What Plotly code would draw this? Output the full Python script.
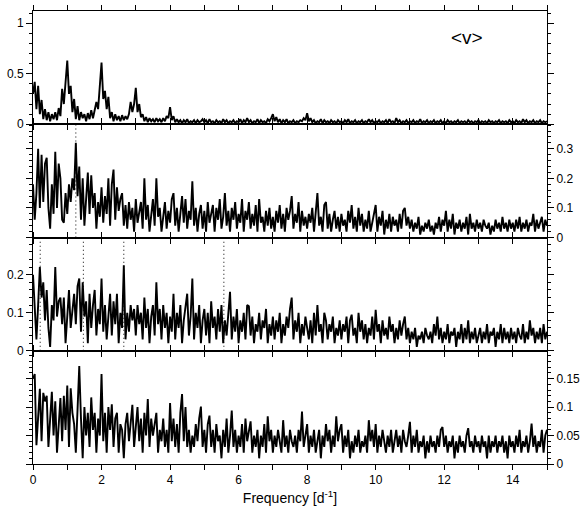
import plotly.graph_objects as go
from plotly.subplots import make_subplots

# frequency grid, step 0.05 d^-1
freq = [round(i * 0.05, 2) for i in range(301)]

# amplitude spectra (one row of 20 values per d^-1)
amp_v = [
    0.30, 0.42, 0.15, 0.38, 0.10, 0.24, 0.05, 0.15, 0.04, 0.12, 0.03, 0.10, 0.05, 0.12, 0.04, 0.16, 0.08, 0.35, 0.20, 0.47,
    0.63, 0.30, 0.38, 0.12, 0.25, 0.05, 0.18, 0.04, 0.12, 0.06, 0.10, 0.03, 0.11, 0.05, 0.14, 0.06, 0.13, 0.22, 0.15, 0.34,
    0.61, 0.25, 0.33, 0.15, 0.27, 0.06, 0.12, 0.03, 0.10, 0.04, 0.08, 0.03, 0.09, 0.04, 0.08, 0.05, 0.10, 0.22, 0.12, 0.20,
    0.36, 0.12, 0.20, 0.07, 0.10, 0.03, 0.07, 0.02, 0.06, 0.03, 0.05, 0.02, 0.06, 0.03, 0.05, 0.02, 0.06, 0.03, 0.08, 0.06,
    0.17, 0.04, 0.08, 0.02, 0.05, 0.02, 0.04, 0.01, 0.04, 0.02, 0.05, 0.01, 0.03, 0.02, 0.04, 0.01, 0.04, 0.02, 0.03, 0.05,
    0.02, 0.04, 0.01, 0.05, 0.02, 0.03, 0.01, 0.04, 0.02, 0.03, 0.01, 0.05, 0.02, 0.04, 0.01, 0.03, 0.02, 0.04, 0.01, 0.03,
    0.02, 0.05, 0.01, 0.04, 0.02, 0.06, 0.02, 0.04, 0.01, 0.03, 0.02, 0.05, 0.01, 0.04, 0.02, 0.03, 0.01, 0.05, 0.03, 0.06,
    0.10, 0.03, 0.07, 0.02, 0.05, 0.01, 0.04, 0.02, 0.05, 0.01, 0.03, 0.02, 0.04, 0.01, 0.03, 0.02, 0.04, 0.03, 0.06, 0.04,
    0.11, 0.03, 0.06, 0.02, 0.04, 0.01, 0.03, 0.02, 0.05, 0.01, 0.04, 0.02, 0.03, 0.01, 0.04, 0.02, 0.03, 0.01, 0.04, 0.02,
    0.03, 0.01, 0.04, 0.02, 0.05, 0.01, 0.03, 0.02, 0.04, 0.01, 0.03, 0.02, 0.04, 0.01, 0.03, 0.02, 0.05, 0.02, 0.04, 0.01,
    0.03, 0.02, 0.04, 0.01, 0.03, 0.02, 0.04, 0.01, 0.05, 0.02, 0.03, 0.01, 0.06, 0.02, 0.04, 0.01, 0.03, 0.02, 0.04, 0.01,
    0.03, 0.02, 0.04, 0.01, 0.03, 0.02, 0.05, 0.01, 0.03, 0.02, 0.04, 0.01, 0.03, 0.02, 0.04, 0.01, 0.03, 0.02, 0.04, 0.01,
    0.03, 0.01, 0.04, 0.02, 0.03, 0.01, 0.03, 0.02, 0.04, 0.01, 0.03, 0.02, 0.03, 0.01, 0.04, 0.02, 0.03, 0.01, 0.03, 0.02,
    0.04, 0.01, 0.03, 0.02, 0.03, 0.01, 0.04, 0.02, 0.03, 0.01, 0.03, 0.02, 0.04, 0.01, 0.03, 0.02, 0.03, 0.01, 0.04, 0.02,
    0.03, 0.01, 0.04, 0.02, 0.03, 0.01, 0.05, 0.02, 0.04, 0.01, 0.03, 0.02, 0.04, 0.01, 0.03, 0.02, 0.04, 0.01, 0.03, 0.02,
    0.03,
]

amp_pw1 = [
    0.18, 0.06, 0.15, 0.30, 0.10, 0.28, 0.12, 0.25, 0.27, 0.10, 0.03, 0.18, 0.08, 0.29, 0.10, 0.25, 0.20, 0.06, 0.05, 0.15,
    0.08, 0.18, 0.12, 0.20, 0.16, 0.32, 0.14, 0.24, 0.06, 0.20, 0.04, 0.12, 0.22, 0.08, 0.21, 0.10, 0.15, 0.03, 0.12, 0.07,
    0.17, 0.05, 0.14, 0.08, 0.20, 0.04, 0.18, 0.23, 0.06, 0.17, 0.09, 0.13, 0.15, 0.04, 0.11, 0.03, 0.12, 0.06, 0.10, 0.02,
    0.13, 0.05, 0.09, 0.12, 0.03, 0.20, 0.06, 0.11, 0.02, 0.09, 0.13, 0.04, 0.20, 0.07, 0.10, 0.02, 0.08, 0.12, 0.03, 0.09,
    0.05, 0.13, 0.15, 0.04, 0.10, 0.02, 0.08, 0.14, 0.05, 0.13, 0.03, 0.09, 0.06, 0.19, 0.04, 0.10, 0.02, 0.08, 0.11, 0.03,
    0.09, 0.02, 0.12, 0.05, 0.08, 0.11, 0.02, 0.10, 0.06, 0.13, 0.03, 0.07, 0.15, 0.04, 0.09, 0.02, 0.10, 0.06, 0.12, 0.03,
    0.08, 0.05, 0.13, 0.02, 0.09, 0.06, 0.12, 0.03, 0.08, 0.04, 0.11, 0.02, 0.13, 0.05, 0.07, 0.02, 0.09, 0.04, 0.10, 0.03,
    0.07, 0.02, 0.09, 0.05, 0.11, 0.03, 0.08, 0.02, 0.10, 0.06, 0.09, 0.14, 0.03, 0.08, 0.05, 0.12, 0.02, 0.09, 0.04, 0.07,
    0.03, 0.08, 0.05, 0.10, 0.02, 0.09, 0.15, 0.04, 0.07, 0.02, 0.11, 0.12, 0.03, 0.08, 0.02, 0.06, 0.09, 0.03, 0.07, 0.02,
    0.08, 0.04, 0.06, 0.02, 0.09, 0.05, 0.11, 0.03, 0.07, 0.02, 0.10, 0.04, 0.08, 0.02, 0.06, 0.03, 0.09, 0.02, 0.05, 0.08,
    0.11, 0.02, 0.07, 0.04, 0.09, 0.01, 0.06, 0.03, 0.08, 0.02, 0.07, 0.04, 0.06, 0.02, 0.08, 0.03, 0.09, 0.10, 0.04, 0.07,
    0.03, 0.06, 0.02, 0.05, 0.03, 0.07, 0.01, 0.04, 0.02, 0.05, 0.03, 0.06, 0.02, 0.04, 0.01, 0.05, 0.03, 0.07, 0.02, 0.06,
    0.04, 0.09, 0.02, 0.06, 0.03, 0.08, 0.01, 0.05, 0.03, 0.06, 0.02, 0.05, 0.03, 0.07, 0.01, 0.08, 0.03, 0.05, 0.02, 0.06,
    0.03, 0.05, 0.02, 0.06, 0.04, 0.03, 0.05, 0.01, 0.04, 0.02, 0.06, 0.03, 0.05, 0.02, 0.07, 0.03, 0.05, 0.02, 0.06, 0.03,
    0.05, 0.02, 0.06, 0.03, 0.07, 0.02, 0.05, 0.03, 0.06, 0.02, 0.05, 0.04, 0.08, 0.02, 0.06, 0.03, 0.05, 0.07, 0.02, 0.06,
    0.04,
]

amp_pw2 = [
    0.20, 0.10, 0.03, 0.12, 0.22, 0.14, 0.18, 0.08, 0.16, 0.06, 0.01, 0.12, 0.08, 0.22, 0.09, 0.13, 0.14, 0.07, 0.14, 0.02,
    0.10, 0.16, 0.06, 0.11, 0.15, 0.07, 0.17, 0.19, 0.05, 0.18, 0.09, 0.13, 0.02, 0.15, 0.06, 0.12, 0.16, 0.04, 0.11, 0.07,
    0.19, 0.05, 0.12, 0.03, 0.09, 0.15, 0.04, 0.13, 0.07, 0.15, 0.02, 0.10, 0.06, 0.225, 0.03, 0.10, 0.05, 0.12, 0.08, 0.11,
    0.04, 0.12, 0.07, 0.10, 0.03, 0.14, 0.06, 0.11, 0.02, 0.09, 0.12, 0.04, 0.18, 0.07, 0.11, 0.03, 0.12, 0.06, 0.10, 0.02,
    0.09, 0.05, 0.15, 0.03, 0.10, 0.06, 0.12, 0.02, 0.08, 0.11, 0.15, 0.04, 0.09, 0.19, 0.03, 0.10, 0.06, 0.12, 0.02, 0.08,
    0.11, 0.04, 0.10, 0.02, 0.13, 0.06, 0.09, 0.03, 0.11, 0.05, 0.12, 0.02, 0.08, 0.04, 0.10, 0.155, 0.03, 0.09, 0.05, 0.11,
    0.02, 0.08, 0.05, 0.10, 0.03, 0.12, 0.117, 0.04, 0.09, 0.02, 0.07, 0.05, 0.10, 0.03, 0.08, 0.06, 0.11, 0.02, 0.07, 0.04,
    0.09, 0.03, 0.08, 0.05, 0.10, 0.02, 0.07, 0.04, 0.09, 0.06, 0.11, 0.14, 0.03, 0.08, 0.05, 0.10, 0.02, 0.07, 0.04, 0.09,
    0.06, 0.03, 0.08, 0.02, 0.10, 0.04, 0.12, 0.05, 0.07, 0.02, 0.10, 0.08, 0.03, 0.07, 0.05, 0.09, 0.02, 0.06, 0.04, 0.08,
    0.03, 0.07, 0.05, 0.09, 0.02, 0.08, 0.095, 0.04, 0.06, 0.02, 0.10, 0.05, 0.08, 0.03, 0.07, 0.02, 0.06, 0.04, 0.09, 0.03,
    0.108, 0.05, 0.07, 0.02, 0.08, 0.04, 0.06, 0.03, 0.09, 0.05, 0.07, 0.02, 0.06, 0.03, 0.08, 0.04, 0.07, 0.09, 0.03, 0.06,
    0.02, 0.05, 0.03, 0.06, 0.01, 0.04, 0.03, 0.05, 0.02, 0.06, 0.04, 0.03, 0.05, 0.02, 0.07, 0.04, 0.09, 0.03, 0.06, 0.02,
    0.05, 0.03, 0.07, 0.02, 0.05, 0.04, 0.06, 0.01, 0.05, 0.03, 0.07, 0.02, 0.06, 0.03, 0.08, 0.02, 0.05, 0.03, 0.06, 0.02,
    0.04, 0.06, 0.02, 0.05, 0.03, 0.07, 0.02, 0.05, 0.04, 0.06, 0.01, 0.05, 0.03, 0.07, 0.02, 0.06, 0.03, 0.05, 0.02, 0.06,
    0.03, 0.05, 0.02, 0.06, 0.04, 0.03, 0.07, 0.02, 0.05, 0.03, 0.08, 0.04, 0.06, 0.02, 0.05, 0.03, 0.06, 0.02, 0.07, 0.03,
    0.05,
]

amp_pw3 = [
    0.15, 0.158, 0.033, 0.09, 0.132, 0.04, 0.125, 0.11, 0.12, 0.03, 0.09, 0.127, 0.05, 0.11, 0.02, 0.08, 0.116, 0.04, 0.12, 0.06,
    0.138, 0.03, 0.133, 0.09, 0.07, 0.02, 0.10, 0.172, 0.08, 0.01, 0.10, 0.05, 0.09, 0.03, 0.117, 0.06, 0.09, 0.02, 0.08, 0.05,
    0.158, 0.04, 0.09, 0.02, 0.10, 0.06, 0.105, 0.03, 0.08, 0.09, 0.02, 0.07, 0.06, 0.01, 0.07, 0.09, 0.04, 0.08, 0.104, 0.03,
    0.07, 0.10, 0.04, 0.08, 0.02, 0.09, 0.05, 0.114, 0.03, 0.08, 0.05, 0.07, 0.09, 0.02, 0.06, 0.04, 0.08, 0.03, 0.06, 0.02,
    0.107, 0.04, 0.08, 0.03, 0.07, 0.02, 0.09, 0.123, 0.04, 0.10, 0.03, 0.06, 0.02, 0.05, 0.03, 0.07, 0.04, 0.08, 0.101, 0.03,
    0.06, 0.02, 0.07, 0.085, 0.03, 0.06, 0.02, 0.07, 0.04, 0.05, 0.01, 0.06, 0.03, 0.08, 0.02, 0.05, 0.094, 0.03, 0.06, 0.02,
    0.05, 0.03, 0.07, 0.02, 0.08, 0.04, 0.06, 0.075, 0.02, 0.05, 0.03, 0.06, 0.01, 0.05, 0.03, 0.07, 0.02, 0.084, 0.04, 0.06,
    0.02, 0.05, 0.03, 0.06, 0.04, 0.02, 0.077, 0.03, 0.05, 0.02, 0.06, 0.04, 0.03, 0.05, 0.02, 0.06, 0.04, 0.092, 0.03, 0.05,
    0.07, 0.02, 0.05, 0.03, 0.06, 0.02, 0.04, 0.06, 0.01, 0.05, 0.03, 0.07, 0.04, 0.06, 0.02, 0.05, 0.03, 0.084, 0.04, 0.06,
    0.07, 0.02, 0.05, 0.03, 0.06, 0.01, 0.04, 0.02, 0.05, 0.03, 0.06, 0.02, 0.04, 0.03, 0.05, 0.02, 0.077, 0.04, 0.06, 0.03,
    0.07, 0.02, 0.05, 0.03, 0.06, 0.04, 0.02, 0.05, 0.03, 0.06, 0.02, 0.04, 0.06, 0.03, 0.05, 0.02, 0.06, 0.04, 0.03, 0.05,
    0.074, 0.02, 0.05, 0.03, 0.06, 0.02, 0.04, 0.03, 0.05, 0.01, 0.04, 0.02, 0.05, 0.03, 0.04, 0.02, 0.05, 0.03, 0.06, 0.065,
    0.03, 0.05, 0.02, 0.04, 0.03, 0.05, 0.01, 0.04, 0.02, 0.05, 0.03, 0.04, 0.02, 0.05, 0.063, 0.03, 0.04, 0.02, 0.05, 0.03,
    0.04, 0.02, 0.05, 0.03, 0.04, 0.01, 0.05, 0.02, 0.04, 0.03, 0.05, 0.02, 0.04, 0.03, 0.05, 0.02, 0.04, 0.01, 0.05, 0.03,
    0.04, 0.02, 0.05, 0.03, 0.06, 0.02, 0.04, 0.03, 0.05, 0.02, 0.04, 0.071, 0.03, 0.05, 0.02, 0.04, 0.03, 0.06, 0.02, 0.05,
    0.06,
]

# prewhitened frequencies marked with dotted lines
marks_pw1 = [1.25]
marks_pw2 = [0.21, 1.47, 2.65, 5.57]

FONT = "Liberation Sans, Arial, Helvetica, sans-serif"

fig = make_subplots(rows=4, cols=1, shared_xaxes=True, vertical_spacing=0)

for i, amp in enumerate([amp_v, amp_pw1, amp_pw2, amp_pw3], start=1):
    fig.add_trace(go.Scatter(
        x=freq, y=amp, mode="lines",
        line=dict(color="black", width=1.9),
        showlegend=False, hoverinfo="skip",
    ), row=i, col=1)

for row, marks in [(2, marks_pw1), (3, marks_pw2)]:
    for f in marks:
        fig.add_shape(
            type="line", x0=f, x1=f, y0=0, y1=1,
            xref=f"x{row}", yref=f"y{row} domain",
            line=dict(color="black", width=1, dash="1px,3px"),
            layer="below",
        )

y_specs = [
    dict(range=[0, 1.12], dtick=0.5, minor=0.1, side="left"),
    dict(range=[0, 0.383], dtick=0.1, minor=0.02, side="right"),
    dict(range=[0, 0.298], dtick=0.1, minor=0.02, side="left"),
    dict(range=[0, 0.199], dtick=0.05, minor=0.01, side="right"),
]
for i, s in enumerate(y_specs, start=1):
    fig.update_yaxes(
        range=s["range"], tick0=0, dtick=s["dtick"], side=s["side"],
        ticks="outside", ticklen=6, tickcolor="black", tickwidth=1,
        minor=dict(dtick=s["minor"], tick0=0, ticks="outside", ticklen=3, tickcolor="black"),
        showline=True, linecolor="black", linewidth=1, mirror="ticks",
        showgrid=False, zeroline=False,
        tickfont=dict(family=FONT, size=12, color="black"),
        row=i, col=1,
    )

for i in range(1, 5):
    fig.update_xaxes(
        range=[0, 15], tick0=0, dtick=2,
        ticks="outside", ticklen=5, tickcolor="black",
        minor=dict(dtick=1, tick0=0, ticks="outside", ticklen=5, tickcolor="black"),
        showline=True, linecolor="black", linewidth=1, mirror="ticks",
        showgrid=False, zeroline=False, showticklabels=(i == 4),
        tickfont=dict(family=FONT, size=12, color="black"),
        row=i, col=1,
    )
fig.update_xaxes(
    title=dict(text="Frequency [d<sup>-1</sup>]", font=dict(family=FONT, size=14, color="black"), standoff=6),
    row=4, col=1,
)

fig.add_annotation(
    x=12.66, y=0.855, xref="x", yref="y", text="&lt;v&gt;", showarrow=False,
    font=dict(family=FONT, size=19, color="black"),
)

fig.update_layout(
    width=587, height=509,
    margin=dict(l=33, r=40, t=5, b=45),
    plot_bgcolor="white", paper_bgcolor="white",
)

fig.write_html(
    "out.html",
    config={"displayModeBar": False},
    post_script="document.body.style.margin='0';",
)
